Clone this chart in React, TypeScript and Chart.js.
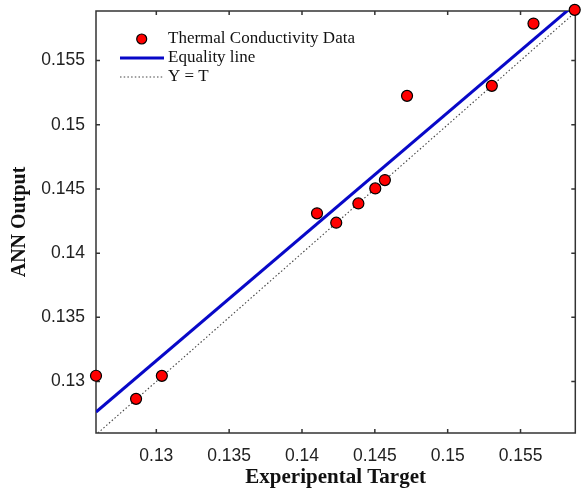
import React, { useEffect, useRef } from "react";
import { Chart, registerables } from "chart.js";

Chart.register(...registerables);

// ---- data ----
const targets = [0.12586, 0.12861, 0.13038, 0.14103, 0.14235, 0.14387, 0.14503, 0.14569, 0.14721, 0.15303, 0.15589, 0.15872];
const outputs = [0.13045, 0.12865, 0.13044, 0.1431, 0.14237, 0.14387, 0.14504, 0.14569, 0.15225, 0.15303, 0.15788, 0.15895];
const fitX = [0.12586, 0.15876];
const fitY = [0.12762, 0.15941];
const identityX = [0.12599, 0.15876];
const identityY = [0.12599, 0.15876];
const xMin = 0.12586;
const xMax = 0.15876;
const yMin = 0.12599;
const yMax = 0.15886;
const tickValues = [0.13, 0.135, 0.14, 0.145, 0.15, 0.155];
const tickLabels = ["0.13", "0.135", "0.14", "0.145", "0.15", "0.155"];
const legendLabels = ["Thermal Conductivity Data", "Equality line", "Y = T"];
const xTitle = "Experipental Target";
const yTitle = "ANN Output";

const framePlugin = {
  id: "frame",
  beforeDatasetsDraw(chart: any) {
    const { ctx, chartArea } = chart;
    const { left, right, top, bottom } = chartArea;
    const xs = chart.scales.x;
    const ys = chart.scales.y;
    ctx.save();
    ctx.strokeStyle = "#333333";
    ctx.lineWidth = 1.5;
    ctx.strokeRect(left, top, right - left, bottom - top);
    const tl = 4;
    ctx.beginPath();
    tickValues.forEach((v) => {
      const px = xs.getPixelForValue(v);
      ctx.moveTo(px, bottom);
      ctx.lineTo(px, bottom - tl);
      ctx.moveTo(px, top);
      ctx.lineTo(px, top + tl);
      const py = ys.getPixelForValue(v);
      ctx.moveTo(left, py);
      ctx.lineTo(left + tl, py);
      ctx.moveTo(right, py);
      ctx.lineTo(right - tl, py);
    });
    ctx.stroke();
    ctx.restore();
  },
};

const legendPlugin = {
  id: "customLegend",
  afterDraw(chart: any) {
    const { ctx } = chart;
    const ds = chart.data.datasets;
    const x0 = 120;
    const x1 = 164;
    const tx = 168;
    const rows = [39, 58, 77];
    ctx.save();
    ctx.beginPath();
    ctx.arc((x0 + x1) / 2 - 0.3, rows[0], 5, 0, Math.PI * 2);
    ctx.fillStyle = ds[0].backgroundColor;
    ctx.fill();
    ctx.lineWidth = 1.2;
    ctx.strokeStyle = ds[0].borderColor;
    ctx.stroke();
    ctx.beginPath();
    ctx.moveTo(x0, rows[1]);
    ctx.lineTo(x1, rows[1]);
    ctx.lineWidth = ds[1].borderWidth;
    ctx.strokeStyle = ds[1].borderColor;
    ctx.stroke();
    ctx.beginPath();
    ctx.setLineDash(ds[2].borderDash);
    ctx.moveTo(x0, rows[2]);
    ctx.lineTo(x1, rows[2]);
    ctx.lineWidth = ds[2].borderWidth;
    ctx.strokeStyle = ds[2].borderColor;
    ctx.stroke();
    ctx.setLineDash([]);
    ctx.fillStyle = "#111111";
    ctx.font = "17px 'Liberation Serif'";
    ctx.textBaseline = "middle";
    ctx.textAlign = "left";
    legendLabels.forEach((t, i) => ctx.fillText(t, tx, rows[i]));
    ctx.restore();
  },
};

const zeroPadding = (scale: any) => {
  scale.paddingTop = 0;
  scale.paddingBottom = 0;
  scale.paddingLeft = 0;
  scale.paddingRight = 0;
};

export default function App() {
  const ref = useRef<HTMLCanvasElement | null>(null);

  useEffect(() => {
    document.body.style.margin = "0";
    const canvas = ref.current;
    if (!canvas) return;
    const chart = new Chart(canvas, {
      type: "scatter",
      data: {
        datasets: [
          {
            label: legendLabels[0],
            data: targets.map((t, i) => ({ x: t, y: outputs[i] })),
            backgroundColor: "#ff0000",
            borderColor: "#000000",
            borderWidth: 1.2,
            pointRadius: 5.5,
            order: 0,
            clip: false,
          },
          {
            label: legendLabels[1],
            data: fitX.map((x, i) => ({ x, y: fitY[i] })),
            showLine: true,
            borderColor: "#0808c8",
            backgroundColor: "#0808c8",
            borderWidth: 3,
            pointRadius: 0,
            order: 1,
            clip: 0,
          },
          {
            label: legendLabels[2],
            data: identityX.map((x, i) => ({ x, y: identityY[i] })),
            showLine: true,
            borderColor: "#444444",
            backgroundColor: "#444444",
            borderWidth: 1.1,
            borderDash: [1.5, 2.2],
            pointRadius: 0,
            order: 2,
            clip: 0,
          },
        ],
      } as any,
      options: {
        animation: false,
        responsive: false,
        maintainAspectRatio: false,
        layout: { padding: { left: 0, top: 11, right: 4, bottom: 0 } },
        plugins: {
          legend: { display: false },
          tooltip: { enabled: false },
        },
        scales: {
          x: {
            type: "linear",
            min: xMin,
            max: xMax,
            grid: { display: false, drawTicks: false },
            border: { display: false },
            afterBuildTicks: (scale: any) => {
              scale.ticks = tickValues.map((v) => ({ value: v }));
            },
            afterFit: (scale: any) => {
              scale.height = 58;
              zeroPadding(scale);
            },
            ticks: {
              autoSkip: false,
              maxRotation: 0,
              padding: 13,
              color: "#222222",
              font: { family: "'Liberation Sans'", size: 17.5 },
              callback: (_v: any, i: number) => tickLabels[i],
            },
            title: {
              display: true,
              text: xTitle,
              color: "#111111",
              font: { family: "'Liberation Serif'", size: 21, weight: "bold" },
              padding: { top: 0, bottom: 1 },
            },
          },
          y: {
            type: "linear",
            min: yMin,
            max: yMax,
            grid: { display: false, drawTicks: false },
            border: { display: false },
            afterBuildTicks: (scale: any) => {
              scale.ticks = tickValues.map((v) => ({ value: v }));
            },
            afterFit: (scale: any) => {
              scale.width = 96;
              zeroPadding(scale);
            },
            ticks: {
              autoSkip: false,
              padding: 11,
              color: "#222222",
              font: { family: "'Liberation Sans'", size: 17.5 },
              callback: (_v: any, i: number) => tickLabels[i],
            },
            title: {
              display: true,
              text: yTitle,
              color: "#111111",
              font: { family: "'Liberation Serif'", size: 20, weight: "bold" },
              padding: { top: 8, bottom: 0 },
            },
          },
        },
      } as any,
      plugins: [framePlugin, legendPlugin],
    });
    return () => chart.destroy();
  }, []);

  return (
    <div style={{ position: "fixed", left: 0, top: 0, width: 582, height: 491, background: "#ffffff" }}>
      <canvas ref={ref} width={582} height={491} style={{ width: 582, height: 491, display: "block" }} />
    </div>
  );
}
